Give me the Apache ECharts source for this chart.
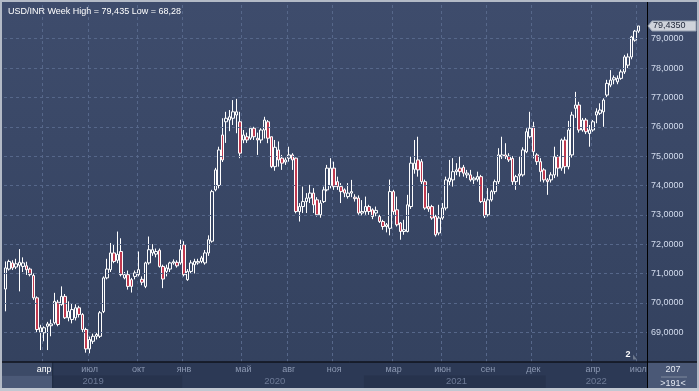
<!DOCTYPE html>
<html><head><meta charset="utf-8">
<script src="https://cdn.jsdelivr.net/npm/echarts/dist/echarts.min.js"></script>
<style>
html,body{margin:0;padding:0;overflow:hidden}
#c{width:699px;height:391px;background:linear-gradient(#3e4c6c,#33415e)}
</style>
</head><body><div id="c"></div>
<script>
// ---- data (weekly USD/INR) ----
const firstWeek = '2019-01-14';
const emptySlots = 2;
const openP = [70.47,71.15,71.36,71.22,71.28,71.24,71.26,71.15,70.93,70.17,
69.00,68.98,69.20,69.22,69.32,70.02,69.94,70.22,69.49,69.43,
69.49,69.83,69.60,69.09,68.43,68.69,68.86,68.86,69.70,70.85,
71.13,71.70,71.45,71.75,70.85,70.96,70.79,70.90,70.96,70.80,
70.56,71.36,71.70,71.66,71.79,71.24,71.07,71.15,71.36,71.38,
71.36,71.98,70.79,71.07,71.30,71.36,71.41,71.36,71.70,72.10,
73.85,74.00,75.72,76.17,76.23,76.29,76.40,76.17,75.55,75.66,
75.61,75.95,75.61,75.55,75.89,76.17,75.66,74.64,75.21,74.93,
74.80,74.93,75.04,74.93,73.11,73.28,73.45,73.57,73.74,73.51,
73.00,73.45,73.85,74.00,74.59,74.13,73.96,73.85,73.62,73.74,
73.60,73.57,73.06,73.11,73.28,73.17,73.06,72.94,72.77,72.60,
72.54,73.79,73.17,72.72,72.43,72.43,73.28,74.55,74.87,74.81,
74.13,73.28,73.28,72.94,72.38,72.89,73.23,74.13,74.19,74.47,
74.59,74.62,74.36,74.36,74.19,74.21,74.30,73.45,73.00,73.51,
73.79,74.13,74.98,75.04,75.00,74.92,74.13,74.33,74.36,75.15,
75.66,76.00,75.04,74.81,74.53,74.19,74.19,74.36,74.98,74.59,
75.55,74.64,75.04,76.63,76.74,75.89,76.23,75.77,75.89,76.40,
76.46,76.51,77.08,77.42,77.60,77.53,77.65,77.87,78.10,78.38,
78.95,79.26];
const closeP = [71.19,71.41,71.19,71.33,71.38,71.36,71.13,70.96,70.17,69.09,
69.15,69.15,69.28,69.28,70.05,69.26,70.22,69.49,69.71,69.77,
69.83,69.60,69.09,68.43,68.75,68.86,68.92,69.66,70.85,71.15,
71.70,71.41,71.65,70.96,70.96,70.56,70.56,71.02,71.13,70.70,
71.36,71.81,71.81,71.75,71.24,70.81,71.19,71.36,71.40,71.26,
71.81,70.96,71.07,71.36,71.41,71.41,71.53,71.70,72.15,73.79,
74.53,75.21,74.87,76.29,76.34,76.51,76.51,75.10,75.72,75.55,
75.95,75.66,75.55,75.89,76.23,75.61,74.64,75.30,74.87,74.76,
74.87,75.04,74.87,73.11,73.28,73.45,73.57,73.74,73.34,73.00,
73.40,73.85,74.59,74.59,73.96,73.96,73.79,73.74,73.74,73.79,
73.55,73.06,73.11,73.28,73.11,72.94,73.15,72.77,72.60,72.66,
73.79,73.11,72.66,72.43,72.49,73.34,74.76,74.76,74.53,74.13,
73.23,73.20,72.89,72.32,72.89,73.23,74.19,74.25,74.47,74.53,
74.47,74.42,74.42,74.19,74.25,74.30,73.45,72.96,73.51,73.79,
74.13,75.04,75.04,74.98,74.87,74.13,74.30,74.39,75.21,75.83,
75.95,75.15,74.81,74.47,74.19,74.13,74.36,74.98,74.59,75.55,
74.64,75.89,76.40,76.74,75.89,76.23,75.83,75.89,76.17,76.51,
76.57,76.91,77.48,77.59,77.67,77.65,77.87,78.38,78.38,79.06,
79.26,79.435];
const lowP = [69.71,71.10,71.12,71.15,70.39,71.05,70.95,70.90,70.10,69.00,
68.39,68.69,68.39,68.86,69.26,69.20,69.90,69.45,69.37,69.30,
69.40,69.50,69.00,68.30,68.28,68.60,68.75,68.80,69.65,70.80,
71.05,71.35,71.35,70.90,70.80,70.45,70.35,70.80,70.90,70.60,
70.50,71.30,71.60,71.55,71.20,70.50,70.90,71.05,71.30,71.20,
71.30,70.90,70.75,71.00,71.00,71.30,71.35,71.30,71.60,72.05,
73.80,73.90,74.80,75.45,75.85,76.06,75.78,74.93,75.44,75.45,
75.55,75.55,75.04,75.44,75.60,75.44,74.59,74.50,74.64,74.53,
74.70,74.81,74.53,73.05,72.77,73.06,73.06,73.40,73.06,72.94,
72.90,73.40,73.80,73.90,73.85,73.85,73.40,73.60,73.55,73.60,
73.45,73.00,72.98,73.00,73.00,72.85,72.95,72.72,72.49,72.40,
72.30,73.00,72.60,72.15,72.32,72.40,73.20,74.40,74.30,74.05,
73.17,73.10,72.83,72.26,72.30,72.83,73.15,74.00,73.96,74.35,
74.30,74.30,74.25,74.13,74.05,74.13,73.40,72.89,72.94,73.45,
73.70,74.05,74.90,74.90,74.80,74.02,73.85,74.02,74.30,75.10,
75.60,74.92,74.70,74.13,74.10,73.68,74.10,74.25,74.30,74.50,
74.40,74.55,74.95,76.30,75.80,75.83,75.75,75.32,75.83,76.12,
76.40,76.00,77.00,77.35,77.45,77.45,77.60,77.80,78.00,78.30,
78.90,79.20];
const highP = [71.41,71.47,71.45,71.50,71.83,71.55,71.40,71.20,71.00,70.22,
69.25,69.20,69.35,69.43,70.34,70.10,70.56,70.30,70.05,69.99,
69.95,69.90,69.65,69.15,68.85,68.95,69.00,69.72,70.90,71.50,
72.04,72.00,72.43,72.20,71.05,71.10,70.85,71.10,71.75,70.90,
71.40,72.26,72.00,71.85,71.85,71.30,71.30,71.40,71.48,71.45,
72.15,72.10,71.15,71.45,71.50,71.50,71.60,71.80,72.30,73.85,
74.60,75.32,76.29,76.51,76.57,76.91,76.95,76.51,75.89,75.80,
76.00,76.00,75.80,75.95,76.34,76.23,75.66,75.55,75.50,75.04,
74.95,75.32,75.10,74.95,73.40,73.96,73.74,74.02,73.91,73.60,
73.50,73.96,74.70,74.93,74.81,74.30,74.08,73.90,74.08,74.19,
73.70,73.66,73.50,73.62,73.34,73.22,73.28,73.00,72.83,72.72,
74.20,73.85,73.62,72.75,72.83,73.68,74.98,75.55,75.66,74.90,
74.20,73.74,73.34,73.00,73.34,73.40,74.30,74.87,74.93,74.76,
74.98,74.70,74.53,74.53,74.30,74.47,74.36,73.56,73.91,73.85,
74.20,75.27,75.66,75.44,75.10,75.00,74.36,74.98,75.30,75.95,
76.51,76.17,75.10,74.93,74.59,74.25,74.45,75.32,75.04,75.60,
75.66,76.20,76.51,77.19,76.85,76.30,76.30,76.06,76.23,76.63,
76.80,76.97,77.60,77.93,77.75,77.75,77.95,78.45,78.50,79.10,
79.30,79.435];
const monthTicks = [['2019-04','апр'],['2019-07','июл'],['2019-10','окт'],['2020-01','янв'],
['2020-05','май'],['2020-08','авг'],['2020-11','ноя'],['2021-03','мар'],['2021-06','июн'],
['2021-09','сен'],['2021-12','дек'],['2022-04','апр'],['2022-07','июл']];
const yearTicks = ['2019','2020','2021','2022'];
const yTicks = [69,70,71,72,73,74,75,76,77,78,79];
const titleText = 'USD/INR Week High = 79,435 Low = 68,28';
const barCountText = '207';
const visibleText = '>191<';
const markerText = '2';

// ---- categories ----
const dates = [];
const d0 = new Date(firstWeek + 'T00:00:00Z');
for (let i = 0; i < openP.length + emptySlots; i++) {
  dates.push(new Date(d0.getTime() + i * 7 * 86400000).toISOString().slice(0, 10));
}
const monthIdx = {};
monthTicks.forEach(([ym, lab], k) => {
  const idx = dates.findIndex(s => s.slice(0, 7) === ym);
  if (idx >= 0) monthIdx[idx] = { lab, first: k === 0 };
});
const yearIdx = {}, yearRuns = {};
yearTicks.forEach(y => {
  const idxs = dates.map((s, i) => s.slice(0, 4) === y ? i : -1).filter(i => i >= 0);
  yearRuns[y] = [idxs[0], idxs[idxs.length - 1]];
  yearIdx[Math.round((idxs[0] + idxs[idxs.length - 1]) / 2)] = y;
});
const candles = openP.map((o, i) => [o, closeP[i], lowP[i], highP[i]]);
const fmt = v => v.toFixed(4).replace('.', ',');

const FONT = '"Liberation Sans", Arial, sans-serif';
const chart = echarts.init(document.getElementById('c'), null, { renderer: 'canvas' });
const W = 699, H = 391, GL = 4, GR = 52, GT = 5, GB = 29.5;
const axisX = W - GR, axisY = H - GB;

chart.setOption({
  animation: false,
  backgroundColor: 'transparent',
  textStyle: { fontFamily: FONT },
  title: { text: titleText, left: 3, top: 2, textStyle: { color: '#ffffff', fontSize: 9, fontWeight: 'normal', fontFamily: FONT } },
  grid: { left: GL, right: GR, top: GT, bottom: GB },
  xAxis: [{
    type: 'category', data: dates, boundaryGap: true,
    axisLine: { show: false }, axisTick: { show: false },
    axisLabel: {
      interval: i => monthIdx[i] !== undefined, margin: 4, color: '#8c98b2', fontSize: 9, fontFamily: FONT,
      formatter: (v, i) => monthIdx[i] ? (monthIdx[i].first ? '{w|' + monthIdx[i].lab + '}' : monthIdx[i].lab) : '',
      rich: { w: { color: '#ffffff', fontSize: 9, fontFamily: FONT } }
    },
    splitLine: { show: true, interval: i => monthIdx[i] !== undefined, lineStyle: { color: '#56678a', type: [3, 3], width: 1 } }
  }, {
    type: 'category', data: dates, boundaryGap: true, position: 'bottom', offset: 13,
    axisLine: { show: false }, axisTick: { show: false }, splitLine: { show: false },
    axisLabel: { interval: i => yearIdx[i] !== undefined, formatter: (v, i) => yearIdx[i] || '', margin: 2, color: '#6d7a96', fontSize: 9.5, fontFamily: FONT }
  }],
  yAxis: {
    type: 'value', position: 'right', min: 68, max: 80.15, interval: 1,
    axisLine: { show: true, lineStyle: { color: '#000000', width: 1 } },
    axisTick: { show: false }, splitLine: { show: false },
    axisLabel: { margin: 4, color: '#d3dcee', fontSize: 9, fontFamily: FONT, formatter: v => (v < 69 || v > 79) ? '' : fmt(v) }
  },
  series: [{
    type: 'candlestick', data: candles, barWidth: 3,
    itemStyle: { color: 'rgba(0,0,0,0)', color0: '#c0394f', borderColor: '#ffffff', borderColor0: '#ffffff', borderWidth: 1 },
    markLine: {
      silent: true, symbol: 'none', label: { show: false }, animation: false,
      lineStyle: { color: '#56678a', type: [3, 3], width: 1 },
      emphasis: { disabled: true },
      data: yTicks.map(v => ({ yAxis: v }))
    }
  }]
});

// ---- decorations computed from scales ----
const last = closeP[closeP.length - 1];
const py = chart.convertToPixel({ yAxisIndex: 0 }, last);
const g = [];
const rowY = axisY + 14;
g.push({ type: 'rect', z: -5, shape: { x: 0, y: axisY, width: W, height: H - axisY }, style: { fill: '#2c3955' } });
yearTicks.forEach((y, k) => {
  if (k % 2 === 0) {
    const [a, b] = yearRuns[y];
    const x1 = Math.max(GL, chart.convertToPixel({ xAxisIndex: 0 }, dates[a]) - 1.75);
    const x2 = Math.min(axisX, chart.convertToPixel({ xAxisIndex: 0 }, dates[b]) + 1.75);
    g.push({ type: 'rect', z: -4, shape: { x: x1, y: rowY, width: x2 - x1, height: H - 3 - rowY }, style: { fill: '#27334d' } });
  }
});
const firstLabIdx = Object.keys(monthIdx).map(Number)[0];
const fx = chart.convertToPixel({ xAxisIndex: 0 }, dates[firstLabIdx]);
g.push({ type: 'rect', z: -3, shape: { x: 2, y: axisY + 1, width: fx + 6, height: rowY - axisY - 1 }, style: { fill: '#3c4a67' } });
g.push({ type: 'rect', z: -3, shape: { x: 2, y: rowY, width: fx + 6, height: H - 3 - rowY }, style: { fill: '#4b5977' } });
g.push({ type: 'line', z: -2, shape: { x1: fx + 8.5, y1: axisY + 1, x2: fx + 8.5, y2: H - 3 }, style: { stroke: '#1f2a40', lineWidth: 1 } });
g.push({ type: 'rect', z: -3, shape: { x: axisX + 1, y: axisY + 1, width: W - axisX - 2, height: H - axisY - 3 }, style: { fill: '#4a5876' } });
g.push({ type: 'line', z: 50, shape: { x1: 0, y1: axisY + 0.5, x2: W, y2: axisY + 0.5 }, style: { stroke: '#000', lineWidth: 1 } });
g.push({ type: 'line', z: 50, shape: { x1: axisX + 0.5, y1: 0, x2: axisX + 0.5, y2: H }, style: { stroke: '#000', lineWidth: 1 } });
g.push({ type: 'text', z: 50, x: (axisX + W) / 2, y: axisY + 8, style: { text: barCountText, fill: '#e4e9f2', font: '9px ' + FONT, textAlign: 'center', textVerticalAlign: 'middle' } });
g.push({ type: 'line', z: 50, shape: { x1: axisX + 14, y1: axisY + 15.5, x2: W - 12, y2: axisY + 15.5 }, style: { stroke: '#7f899d', lineWidth: 1 } });
g.push({ type: 'text', z: 50, x: (axisX + W) / 2, y: axisY + 22, style: { text: visibleText, fill: '#e4e9f2', font: '9px ' + FONT, textAlign: 'center', textVerticalAlign: 'middle' } });
// last price tag
g.push({ type: 'polygon', z: 60, shape: { points: [[axisX + 1, py], [axisX + 5, py - 5], [W - 3, py - 5], [W - 3, py + 5], [axisX + 5, py + 5]] }, style: { fill: '#cfd3db', stroke: '#9aa3b3', lineWidth: 1 } });
g.push({ type: 'text', z: 61, x: axisX + 6, y: py, style: { text: fmt(last), fill: '#1b2336', font: '9px ' + FONT, textVerticalAlign: 'middle' } });
// small marker near the bottom-right of plot
g.push({ type: 'text', z: 50, x: axisX - 19, y: axisY - 7, style: { text: markerText, fill: '#ffffff', font: 'bold 9px ' + FONT, textAlign: 'center', textVerticalAlign: 'middle' } });
g.push({ type: 'polygon', z: 50, shape: { points: [[axisX - 14, axisY - 7], [axisX - 10, axisY - 2], [axisX - 14, axisY - 2]] }, style: { fill: '#6f7a8e' } });
// outer frame
g.push({ type: 'rect', z: 70, shape: { x: 1, y: 1, width: W - 2, height: H - 2 }, style: { fill: 'none', stroke: '#b3bac6', lineWidth: 2 } });
g.push({ type: 'line', z: 70, shape: { x1: 0, y1: H - 1.5, x2: W, y2: H - 1.5 }, style: { stroke: '#c2c8d2', lineWidth: 3 } });
chart.setOption({ graphic: g });
</script>
</body></html>
